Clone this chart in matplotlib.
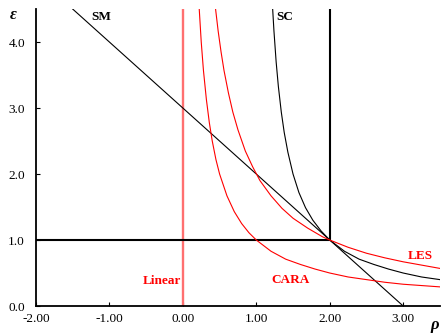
import matplotlib
matplotlib.use("Agg")
import matplotlib.pyplot as plt

plt.rcParams['font.family'] = ['Liberation Serif', 'DejaVu Serif']

# curves (rho, epsilon)
cara_x = [0.22, 0.25, 0.28, 0.32, 0.36, 0.40, 0.45, 0.50, 0.60, 0.70, 0.80, 0.90,
          1.00, 1.20, 1.40, 1.60, 1.80, 2.00, 2.25, 2.50, 2.75, 3.00, 3.25, 3.50]
cara_y = [4.55, 4.00, 3.57, 3.13, 2.78, 2.50, 2.22, 2.00, 1.67, 1.43, 1.25, 1.11,
          1.00, 0.83, 0.71, 0.63, 0.56, 0.50, 0.44, 0.40, 0.36, 0.33, 0.31, 0.29]

les_x = [0.44, 0.48, 0.52, 0.56, 0.62, 0.68, 0.75, 0.85, 0.95, 1.05, 1.20,
         1.35, 1.50, 1.70, 1.90, 2.00, 2.25, 2.50, 2.75, 3.00, 3.25, 3.50]
les_y = [4.55, 4.17, 3.85, 3.57, 3.23, 2.94, 2.67, 2.35, 2.11, 1.90, 1.67,
         1.48, 1.33, 1.18, 1.05, 1.00, 0.89, 0.80, 0.73, 0.67, 0.62, 0.57]

sc_x = [1.22, 1.24, 1.27, 1.30, 1.34, 1.38, 1.43, 1.50, 1.58, 1.67, 1.77, 1.88,
        2.00, 2.20, 2.40, 2.60, 2.80, 3.00, 3.25, 3.50]
sc_y = [4.55, 4.17, 3.70, 3.33, 2.94, 2.63, 2.33, 2.00, 1.72, 1.49, 1.30, 1.14,
        1.00, 0.83, 0.71, 0.63, 0.56, 0.50, 0.44, 0.40]

sm_x = [-1.5, 3.0]
sm_y = [4.5, 0.0]

linear_x = [0.0, 0.0]
linear_y = [0.0, 4.5]

box_x = [-2.0, 2.0, 2.0]
box_y = [1.0, 1.0, 4.5]

xticks = [-2, -1, 0, 1, 2, 3]
yticks = [0, 1, 2, 3, 4]

fig = plt.figure(figsize=(4.43, 3.34), dpi=100)
ax = fig.add_axes([0.0813, 0.0838, 0.9117, 0.889])

ax.plot(linear_x, linear_y, color='#ff7070', lw=1.7)
ax.plot(box_x, box_y, color='black', lw=1.5)
ax.plot(sm_x, sm_y, color='black', lw=0.8)
ax.plot(sc_x, sc_y, color='black', lw=0.8)
ax.plot(cara_x, cara_y, color='red', lw=0.8)
ax.plot(les_x, les_y, color='red', lw=0.8)

ax.set_xlim(-2, 3.5)
ax.set_ylim(0, 4.5)
ax.set_xticks(xticks)
ax.set_yticks(yticks)
ax.set_xticklabels(['%.2f' % v for v in xticks])
ax.set_yticklabels(['%.1f' % v for v in yticks])
ax.tick_params(direction='in', length=3, labelsize=9.5, width=0.8)
ax.tick_params(axis='y', pad=8)
ax.tick_params(axis='x', pad=5)

for s in ['top', 'right']:
    ax.spines[s].set_visible(False)
for s in ['left', 'bottom']:
    ax.spines[s].set_linewidth(1.3)

bold = dict(fontsize=9.5, fontweight='bold', ha='center', va='center')
ax.text(-1.11, 4.38, 'SM', color='black', **bold)
ax.text(1.39, 4.38, 'SC', color='black', **bold)
ax.text(3.23, 0.76, 'LES', color='red', **bold)
ax.text(1.46, 0.39, 'CARA', color='red', **bold)
ax.text(-0.03, 0.38, 'Linear', color='red', fontsize=9.5, fontweight='bold',
        ha='right', va='center')

fig.text(0.029, 0.955, 'ε', fontsize=12, fontweight='bold', style='italic',
         ha='center', va='center')
fig.text(0.982, 0.028, 'ρ', fontsize=12, fontweight='bold', style='italic',
         ha='center', va='center')

fig.savefig('out.png', dpi=100)
